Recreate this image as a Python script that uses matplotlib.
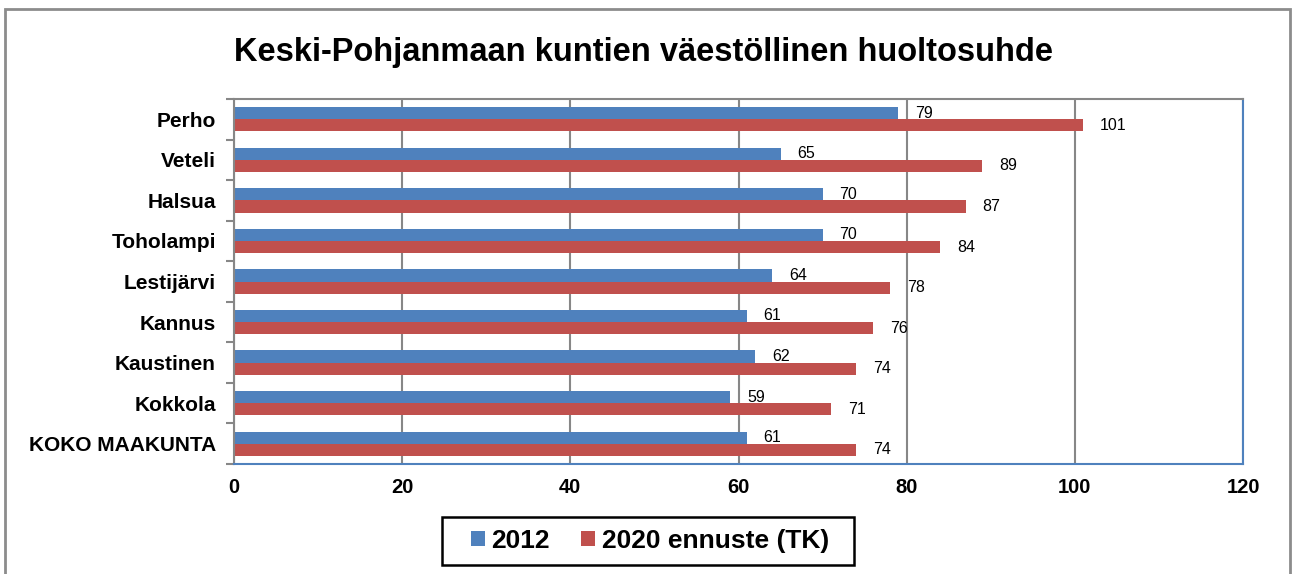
import numpy as np
import matplotlib.pyplot as plt
from matplotlib.patches import Rectangle

plt.rcParams['font.family'] = ['Liberation Sans', 'DejaVu Sans']

kunnat = ["Perho", "Veteli", "Halsua", "Toholampi", "Lestijärvi",
          "Kannus", "Kaustinen", "Kokkola", "KOKO MAAKUNTA"]
v2012 = [79, 65, 70, 70, 64, 61, 62, 59, 61]
v2020 = [101, 89, 87, 84, 78, 76, 74, 71, 74]
sarjat = ["2012", "2020 ennuste (TK)"]

sininen = "#4F81BD"
punainen = "#C0504D"
harmaa = "#878787"

fig = plt.figure(figsize=(12.92, 5.74), dpi=100)
ax = fig.add_axes([234 / 1292, 1 - 464 / 574, 1009 / 1292, 365 / 574])

y = np.arange(len(kunnat))
h = 0.3
b1 = ax.barh(y - h / 2, v2012, height=h, color=sininen, label=sarjat[0])
b2 = ax.barh(y + h / 2, v2020, height=h, color=punainen, label=sarjat[1])

for bars, vals in ((b1, v2012), (b2, v2020)):
    for rect, v in zip(bars, vals):
        ax.text(v + 2.0, rect.get_y() + rect.get_height() / 2, str(v),
                va="center", ha="left", fontsize=11.5)

ax.set_xlim(0, 120)
ax.set_ylim(len(kunnat) - 0.5, -0.5)
ax.set_xticks(range(0, 121, 20))
ax.set_xticklabels([str(t) for t in range(0, 121, 20)], fontsize=14.5, fontweight="bold")
ax.tick_params(axis="x", length=0, pad=10)
ax.set_yticks(y)
ax.set_yticklabels(kunnat, fontsize=15, fontweight="bold")
ax.set_yticks(np.arange(-0.5, len(kunnat), 1), minor=True)
ax.tick_params(axis="y", which="major", length=0, pad=13)
ax.tick_params(axis="y", which="minor", length=6, color=harmaa, width=1.5)
ax.grid(axis="x", color=harmaa, linewidth=1.5)
ax.set_axisbelow(True)

ax.spines["left"].set_color(harmaa)
ax.spines["left"].set_linewidth(1.5)
ax.spines["top"].set_color(harmaa)
ax.spines["top"].set_linewidth(1.5)
ax.spines["right"].set_color(sininen)
ax.spines["right"].set_linewidth(1.5)
ax.spines["bottom"].set_color(sininen)
ax.spines["bottom"].set_linewidth(1.5)

fig.text(643 / 1292, 1 - 52 / 574, "Keski-Pohjanmaan kuntien väestöllinen huoltosuhde",
         ha="center", va="center", fontsize=23.5, fontweight="bold")

leg = fig.legend(handles=[b1, b2], loc="center", bbox_to_anchor=(650 / 1292, 1 - 541 / 574),
                 ncol=2, frameon=False, handlelength=0.53, handleheight=0.53,
                 handletextpad=0.25, columnspacing=1.2,
                 prop={"size": 19, "weight": "bold"})

fig.patches.append(Rectangle((442 / 1292, 1 - 565 / 574), 412 / 1292, 48 / 574,
                             transform=fig.transFigure, fill=False,
                             edgecolor="black", linewidth=1.8))

fig.patches.append(Rectangle((5 / 1292, -0.05), 1285 / 1292, 1 - 9 / 574 + 0.05,
                             transform=fig.transFigure, fill=False,
                             edgecolor="#8C8C8C", linewidth=2))

fig.savefig("out.png", dpi=100)
